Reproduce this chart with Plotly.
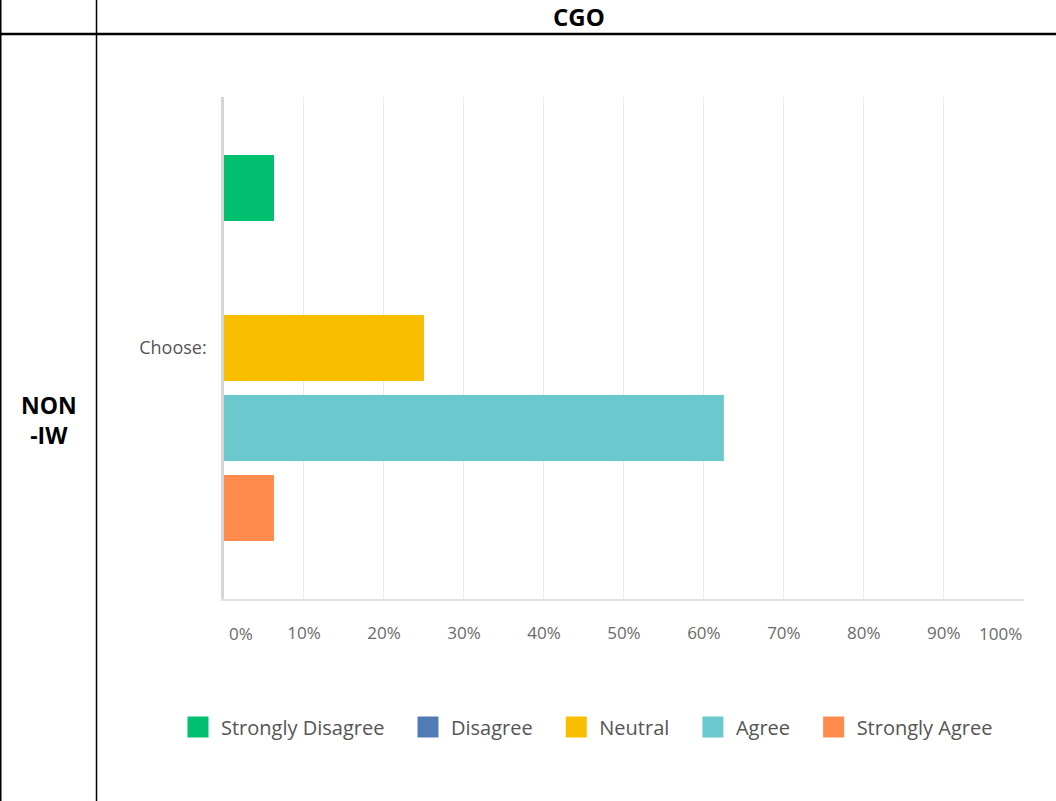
import plotly.graph_objects as go

# ---- data ----
category = ["Choose:"]
series_names = ["Strongly Disagree", "Disagree", "Neutral", "Agree", "Strongly Agree"]
series_values = [6.25, 0, 25.0, 62.5, 6.25]
series_colors = ["#00BF6F", "#507CB6", "#F9BE00", "#6BC8CD", "#FF8B4F"]
tick_values = [0, 10, 20, 30, 40, 50, 60, 70, 80, 90, 100]
tick_labels = ["0%", "10%", "20%", "30%", "40%", "50%", "60%",
               "70%", "80%", "90%", "100%"]
header_text = "CGO"
row_text = "NON<br>-IW"

W, H = 1056, 801
L, R, T, B = 224, 32, 97, 202
PW, PH = W - L - R, H - T - B


def px_x(px):
    return (px - L) / PW


def px_y(py):
    return (H - B - py) / PH


fig = go.Figure()
for name, val, col in zip(series_names, series_values, series_colors):
    fig.add_trace(go.Bar(
        y=category, x=[val], orientation="h", name=name,
        marker=dict(color=col, line=dict(width=0)),
        showlegend=False, hoverinfo="x+name",
    ))
# legend proxies (larger swatches)
for name, col in zip(series_names, series_colors):
    fig.add_trace(go.Scatter(
        x=[None], y=[None], mode="markers", name=name + "\u00a0" * 3,
        marker=dict(symbol="square", size=16, color=col, line=dict(color=col, width=5)),
        showlegend=True,
    ))

# inner tick labels on the axis ticks; the two end labels are justified inward
inner_text = [t if 0 < v < 100 else "" for v, t in zip(tick_values, tick_labels)]
tick_font = dict(size=17, color="#6A6A6A", family="Open Sans")
end_annotations = [
    dict(text=tick_labels[0], xref="x", yref="paper", x=tick_values[0], y=px_y(633),
         xanchor="left", yanchor="middle", xshift=3, showarrow=False, font=tick_font),
    dict(text=tick_labels[-1], xref="x", yref="paper", x=tick_values[-1], y=px_y(633),
         xanchor="right", yanchor="middle", xshift=0, showarrow=False, font=tick_font),
]

fig.update_layout(
    width=W, height=H,
    margin=dict(l=L, r=R, t=T, b=B, pad=0, autoexpand=False),
    paper_bgcolor="white", plot_bgcolor="white",
    barmode="group", bargap=0.203, bargroupgap=0.175,
    font=dict(family="Open Sans", color="#666666"),
    showlegend=True,
    legend=dict(
        orientation="h", xref="paper", yref="paper",
        x=px_x(175), y=px_y(727), xanchor="left", yanchor="middle",
        font=dict(size=20, color="#555555", family="Open Sans"),
        itemsizing="trace", itemwidth=36, traceorder="normal", itemclick=False,
    ),
    xaxis=dict(
        range=[0, 100.02], tickmode="array", tickvals=tick_values, ticktext=inner_text,
        showgrid=True, gridcolor="#EBEBEB", gridwidth=1,
        showline=True, linecolor="#E2E2E2", linewidth=2,
        zeroline=False, ticks="", ticklabelstandoff=18,
        automargin=False, tickfont=tick_font, fixedrange=True,
    ),
    yaxis=dict(
        autorange="reversed", showgrid=False, zeroline=False,
        showline=True, linecolor="#D6D6D6", linewidth=2.5,
        ticks="", ticklabelstandoff=11, automargin=False,
        tickfont=dict(size=18, color="#555555", family="Open Sans"),
        fixedrange=True,
    ),
    shapes=[
        dict(type="line", xref="paper", yref="paper", x0=px_x(0.75), x1=px_x(0.75),
             y0=px_y(0), y1=px_y(H), line=dict(color="black", width=1.5)),
        dict(type="line", xref="paper", yref="paper", x0=px_x(96.5), x1=px_x(96.5),
             y0=px_y(0), y1=px_y(H), line=dict(color="black", width=1.5)),
        dict(type="line", xref="paper", yref="paper", x0=px_x(0), x1=px_x(W),
             y0=px_y(34), y1=px_y(34), line=dict(color="black", width=2.5)),
    ],
    annotations=[
        dict(text="<b>" + header_text + "</b>", xref="paper", yref="paper",
             x=px_x(579), y=px_y(17), xanchor="center", yanchor="middle",
             showarrow=False, font=dict(size=24, color="black", family="Open Sans")),
        dict(text="<b>" + row_text + "</b>", xref="paper", yref="paper",
             x=px_x(49), y=px_y(420), xanchor="center", yanchor="middle",
             showarrow=False, font=dict(size=23, color="black", family="Open Sans")),
    ] + end_annotations,
)

fig.write_html(
    "out.html",
    config={"displayModeBar": False},
    post_script="document.body.style.margin='0';document.body.style.overflow='hidden';",
)
